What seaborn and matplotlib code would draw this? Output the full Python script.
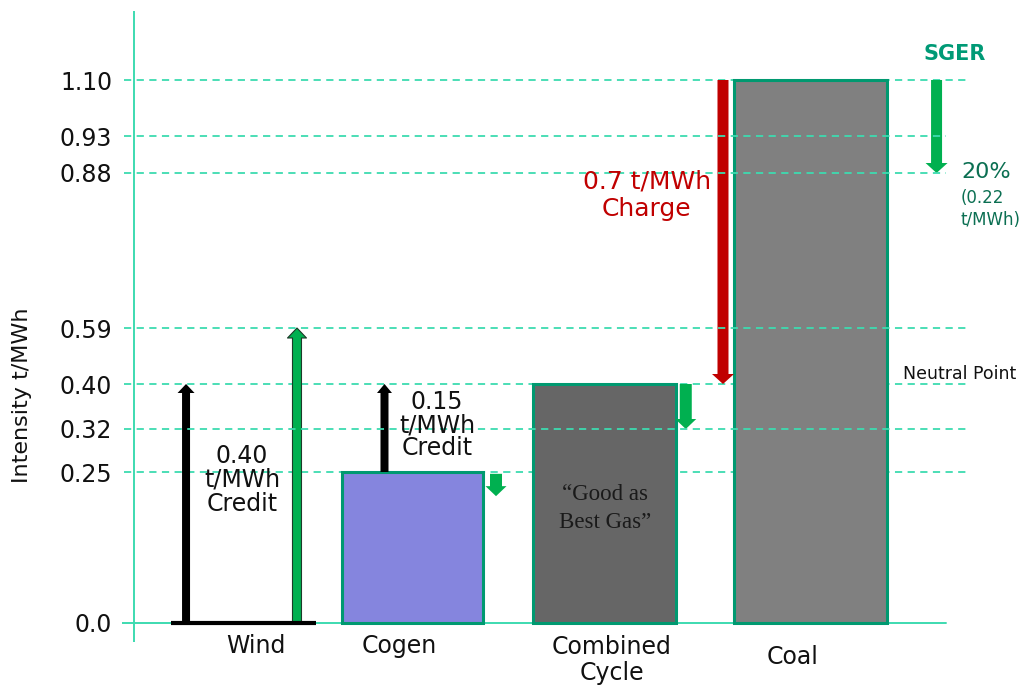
import numpy as np
import pandas as pd
import matplotlib
matplotlib.use("Agg")
import matplotlib.pyplot as plt
from matplotlib.patches import FancyArrowPatch, ArrowStyle
from matplotlib.scale import FuncScale
import seaborn as sns

# ---- data -------------------------------------------------------------
sources = ["Wind", "Cogen", "Combined\nCycle", "Coal"]
intensity = [0.0, 0.25, 0.40, 1.10]          # t/MWh

tick_values = [0.0, 0.25, 0.32, 0.40, 0.59, 0.88, 0.93, 1.10]
tick_labels = ["0.0", "0.25", "0.32", "0.40", "0.59", "0.88", "0.93", "1.10"]

wind_credit = 0.40          # black arrow on wind
wind_total = 0.59           # green arrow on wind
cogen_credit_top = 0.40     # cogen credit arrow tip
cogen_sger_end = 0.21
cc_sger_end = 0.32
coal_charge_end = 0.40      # neutral point
coal_sger_end = 0.88

# ---- layout -----------------------------------------------------------
slots = [0.0, 0.894, 1.91, 3.0]               # bar centres along x
bar_widths = [0.767, 0.746, 0.757, 0.81]
# spacing of the (non-uniform) intensity axis, in display units
tick_spacing = [0, 151, 194, 239, 295, 450, 487, 543]

bar_fill = {"Wind": "#ffffff", "Cogen": "#8585de",
            "Combined\nCycle": "#666666", "Coal": "#808080"}
bar_edge = {"Wind": "#000000", "Cogen": "#009970",
            "Combined\nCycle": "#009970", "Coal": "#009970"}
bar_lw = {"Wind": 3.0, "Cogen": 2.2, "Combined\nCycle": 2.2, "Coal": 2.2}

TEAL_LINE = "#3ddbb0"
GREEN = "#00b050"
RED = "#c00000"

sns.set_theme(style="white")
plt.rcParams["font.family"] = ["DejaVu Sans"]

tv = np.array(tick_values)
tp = np.array(tick_spacing, dtype=float)


def forward(v):
    v = np.asarray(v, dtype=float)
    out = np.interp(v, tv, tp)
    lo_slope = (tp[1] - tp[0]) / (tv[1] - tv[0])
    hi_slope = (tp[-1] - tp[-2]) / (tv[-1] - tv[-2])
    out = np.where(v < tv[0], tp[0] + (v - tv[0]) * lo_slope, out)
    out = np.where(v > tv[-1], tp[-1] + (v - tv[-1]) * hi_slope, out)
    return out


def inverse(u):
    u = np.asarray(u, dtype=float)
    out = np.interp(u, tp, tv)
    lo_slope = (tv[1] - tv[0]) / (tp[1] - tp[0])
    hi_slope = (tv[-1] - tv[-2]) / (tp[-1] - tp[-2])
    out = np.where(u < tp[0], tv[0] + (u - tp[0]) * lo_slope, out)
    out = np.where(u > tp[-1], tv[-1] + (u - tp[-1]) * hi_slope, out)
    return out


W, H = 1024, 689
fig = plt.figure(figsize=(W / 100, H / 100), dpi=100)
ax_left, ax_right, ax_top, ax_bottom = 122, 1024, 11, 642
ax = fig.add_axes([ax_left / W, (H - ax_bottom) / H,
                   (ax_right - ax_left) / W, (ax_bottom - ax_top) / H])

df = pd.DataFrame({"source": sources, "intensity": intensity, "slot": slots})
sns.barplot(data=df, x="slot", y="intensity", hue="source",
            palette=bar_fill, native_scale=True, dodge=False,
            saturation=1, legend=False, ax=ax, zorder=3)

# per-bar width and outline
for patch in ax.patches:
    cx = patch.get_x() + patch.get_width() / 2
    i = int(np.argmin([abs(cx - s) for s in slots]))
    name = sources[i]
    w = bar_widths[i]
    patch.set_width(w)
    patch.set_x(slots[i] - w / 2)
    patch.set_edgecolor(bar_edge[name])
    patch.set_linewidth(bar_lw[name])
    if name == "Wind":
        patch.set_facecolor("none")
        patch.set_zorder(6)

ax.set_yscale(FuncScale(ax, (forward, inverse)))
px_per_unit = 189.0
ax.set_xlim((ax_left - 243.5) / px_per_unit, (ax_right - 243.5) / px_per_unit)
ax.set_ylim(float(inverse(623 - ax_bottom)), float(inverse(623 - ax_top)))

for s in ax.spines.values():
    s.set_visible(False)
ax.set_xticks([])
ax.set_xlabel("")
ax.set_ylabel("")
ax.set_yticks(tick_values)
ax.set_yticklabels(tick_labels)
ax.tick_params(axis="y", length=0, pad=7, labelsize=17, labelcolor="#111111")
ax.grid(False)

# dashed reference lines; some drawn over the bars, some behind
span = ax_right - ax_left
over_bars = {0.93, 0.88, 0.59, 0.32}
for v in tick_values[1:]:
    xmax = 946 if v in (0.93, 0.88) else 966
    ax.axhline(v, xmin=(124 - ax_left) / span, xmax=(xmax - ax_left) / span,
               color=TEAL_LINE, lw=1.3, ls=(0, (4, 3)),
               zorder=7 if v in over_bars else 1)

# axis lines
ax.axhline(0, xmin=0, xmax=(946 - ax_left) / span, color=TEAL_LINE, lw=1.4,
           zorder=2)
ax.axvline((134 - 243.5) / px_per_unit, color=TEAL_LINE, lw=1.4, zorder=2)


def arrow(x, y0, y1, color, tail, head_w, head_l, edge=None, z=5):
    style = ArrowStyle("Simple", head_length=head_l, head_width=head_w,
                       tail_width=tail)
    p = FancyArrowPatch((x, y0), (x, y1), arrowstyle=style, mutation_scale=1,
                        shrinkA=0, shrinkB=0, color=color,
                        ec=edge if edge else color,
                        lw=0.8 if edge else 0, zorder=z)
    ax.add_patch(p)


k = 0.72  # px -> pt
# wind: credit and total arrows
arrow(slots[0] - 0.304, 0.0, wind_credit, "black", 8 * k, 17 * k, 9 * k)
arrow(slots[0] + 0.283, 0.0, wind_total, GREEN, 9 * k, 19 * k, 10 * k,
      edge="#1d3b29")
# cogen
arrow(slots[1] - 0.148, intensity[1], cogen_credit_top, "black",
      8 * k, 15 * k, 9 * k)
arrow(slots[0] + 1.336, intensity[1] - 0.003, cogen_sger_end, GREEN,
      12 * k, 21 * k, 10 * k)
# combined cycle
arrow(slots[0] + 2.34, intensity[2], cc_sger_end, GREEN, 12 * k, 21 * k,
      10 * k)
# coal charge and SGER reduction
arrow(slots[0] + 2.537, intensity[3], coal_charge_end, RED, 11 * k, 22 * k,
      10 * k)
arrow(slots[0] + 3.667, intensity[3], coal_sger_end, GREEN, 11 * k, 22 * k,
      10 * k)

# annotations
ax.text(slots[0] - 0.008, 0.237, "0.40\nt/MWh\nCredit", ha="center",
        va="center", fontsize=17, linespacing=1.0, color="#111111", zorder=8)
ax.text(1.024, 0.327, "0.15\nt/MWh\nCredit", ha="center", va="center",
        fontsize=17, linespacing=0.95, color="#111111", zorder=8)
ax.text(1.913, 0.19, "\u201cGood as\nBest Gas\u201d", ha="center",
        va="center", fontsize=16.5, linespacing=1.45, color="#1a1a1a",
        family=["Liberation Serif", "DejaVu Serif"], zorder=8)
ax.text(2.134, 0.839, "0.7 t/MWh\nCharge", ha="center", va="center",
        fontsize=18, color=RED, linespacing=1.2, zorder=8)
ax.text(3.765, 1.179, "SGER", ha="center", va="center", fontsize=15,
        fontweight="bold", color="#009a76", zorder=8)
ax.text(3.796, 0.882, "20%", ha="left", va="center", fontsize=16,
        color="#0b6f52", zorder=8)
ax.text(3.796, 0.812, "(0.22\nt/MWh)", ha="left", va="center", fontsize=12,
        color="#0b6f52", linespacing=1.3, zorder=8)
ax.text(3.489, 0.433, "Neutral Point", ha="left", va="center", fontsize=12.5,
        color="#111111", zorder=8)

# category labels under the baseline
label_dx = [12.5, -13, 7, -18]       # px
label_dy = [23, 23, 37, 34]          # px below baseline
for name, s, dx, dy in zip(sources, slots, label_dx, label_dy):
    ax.annotate(name, xy=(s, 0), xycoords="data",
                xytext=(dx * k, -dy * k), textcoords="offset points",
                ha="center", va="center", fontsize=17, color="#111111",
                linespacing=1.15, annotation_clip=False)

fig.text(22 / W, (H - 395) / H, "Intensity t/MWh", rotation=90,
         ha="center", va="center", fontsize=16, color="#111111")

fig.savefig("out.png", dpi=100)
